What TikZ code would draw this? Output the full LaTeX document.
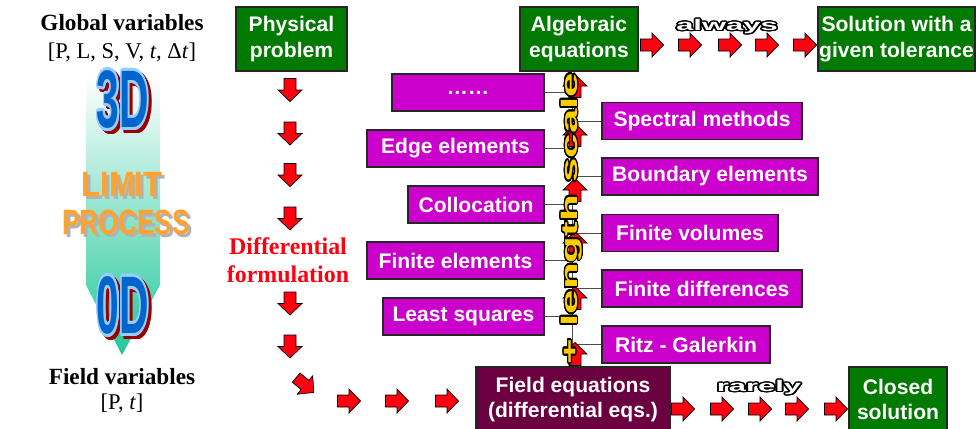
\documentclass[tikz,border=0pt]{standalone}
\usepackage{fontspec}
\setmainfont{Liberation Serif}
\setsansfont{Liberation Sans}
\usepackage{contour}
\contournumber{24}
\usetikzlibrary{arrows.meta, positioning}
\definecolor{mGreen}{HTML}{007A00}
\definecolor{mPurple}{HTML}{CC00CC}
\definecolor{mWine}{HTML}{6B0040}
\definecolor{mRed}{HTML}{FF0010}
\definecolor{mTeal}{HTML}{20C89A}
\definecolor{mAmber}{HTML}{FFA22E}
\definecolor{mDeepBlue}{HTML}{0066CC}
\definecolor{mSky}{HTML}{99CCFF}
\definecolor{mShade}{HTML}{990000}
\definecolor{mYellow}{HTML}{FFCC00}

\begin{document}
\begin{tikzpicture}[x=0.025cm, y=-0.025cm,
      box/.style={draw=black!85, line width=0.9pt, text=white, inner sep=0pt,
                  align=center, font=\sffamily\bfseries\fontsize{15}{18}\selectfont},
      gbox/.style={box, fill=mGreen, minimum height=1.6cm},
      pbox/.style={box, fill=mPurple, minimum height=0.925cm},
      wbox/.style={box, fill=mWine, minimum height=1.625cm},
      link/.style={draw=black!70, line width=0.6pt},
      title/.style={font=\bfseries\fontsize{16.5}{19}\selectfont},
      vars/.style={font=\fontsize{16}{19}\selectfont},
      big/.style={font=\sffamily\bfseries\fontsize{58}{58}\selectfont, inner sep=0pt},
      limit/.style={font=\sffamily\bfseries\fontsize{25}{25}\selectfont, inner sep=0pt},
      wordart/.style={font=\sffamily\bfseries\fontsize{11}{11}\selectfont, inner sep=0pt},
      blockarrow/.pic={\draw[fill=mRed, draw=black, line width=0.5pt]
          (-11.5,-6) -- (0,-6) -- (0,-12) -- (11.5,0) -- (0,12) -- (0,6) -- (-11.5,6) -- cycle;}]
    \useasboundingbox (0,0) rectangle (978,428);

    \shade[top color=white, bottom color=mTeal]
        (86,75) -- (160,75) -- (160,285) -- (122,355) -- (86,285) -- cycle;

    \node[title] (glob) at (122,23) {Global variables};
    \node[vars] (globv) at (122,52) {[P, L, S, V, \textit{t}, Δ\textit{t}]};
    \node[title] (fld) at (122,377) {Field variables};
    \node[vars] (fldv) at (122,403) {[P, \textit{t}]};

    \node[big, text=mShade] (threeDs) at (126,104) {\scalebox{0.5}[1]{\contourlength{2pt}\contour{mShade}{3D}}};
    \node[big, text=mDeepBlue] (threeD) at (123,101) {\scalebox{0.5}[1]{\contourlength{2pt}\contour{mSky}{3D}}};
    \node[big, text=mShade] (zeroDs) at (126,310) {\scalebox{0.5}[1]{\contourlength{2pt}\contour{mShade}{0D}}};
    \node[big, text=mDeepBlue] (zeroD) at (123,307) {\scalebox{0.5}[1]{\contourlength{2pt}\contour{mSky}{0D}}};
    \node[limit, text=black!30] (lims) at (125,187) {\scalebox{0.88}[1]{LIMIT}};
    \node[limit, text=mAmber] (lim) at (122,184) {\scalebox{0.88}[1]{LIMIT}};
    \node[limit, text=black!30] (procs) at (129,225) {\scalebox{0.74}[1]{PROCESS}};
    \node[limit, text=mAmber] (proc) at (126,222) {\scalebox{0.74}[1]{PROCESS}};

    \node[gbox, minimum width=2.775cm] (phys) at (291.5,39) {Physical\\problem};
    \node[gbox, minimum width=2.95cm] (alg) at (579,39) {Algebraic\\equations};
    \node[gbox, minimum width=3.925cm] (sol) at (896.5,39) {Solution with a\\given tolerance};
    \node[wbox, minimum width=4.85cm] (feq) at (573,399.5) {Field equations\\(differential eqs.)};
    \node[gbox, minimum width=2.45cm, minimum height=1.625cm] (closed) at (898,399.5) {Closed\\solution};

    \node[font=\bfseries\fontsize{17}{20}\selectfont, text=mRed, align=center]
        (diff) at (288,260) {Differential\\formulation};

    \node[pbox, minimum width=3.8cm] (dots) at (468,92.5) {……};
    \node[pbox, minimum width=4.425cm] (edge) at (455.5,148.5) {Edge elements};
    \node[pbox, minimum width=3.4cm] (coll) at (476,204.5) {Collocation};
    \node[pbox, minimum width=4.425cm] (fem) at (455.5,260.5) {Finite elements};
    \node[pbox, minimum width=4.025cm] (lsq) at (463.5,316.5) {Least squares};
    \node[pbox, minimum width=5cm] (spec) at (702,121) {Spectral methods};
    \node[pbox, minimum width=5.4cm] (bem) at (710,176.5) {Boundary elements};
    \node[pbox, minimum width=4.4cm] (fvm) at (690,233) {Finite volumes};
    \node[pbox, minimum width=5cm] (fdm) at (702,288.5) {Finite differences};
    \node[pbox, minimum width=4.2cm] (ritz) at (686,344.5) {Ritz - Galerkin};

    \coordinate (ax1) at (572,92.5);
    \coordinate (ax2) at (572,121);
    \coordinate (ax3) at (572,148.5);
    \coordinate (ax4) at (572,176.5);
    \coordinate (ax5) at (572,204.5);
    \coordinate (ax6) at (572,233);
    \coordinate (ax7) at (572,260.5);
    \coordinate (ax8) at (572,288.5);
    \coordinate (ax9) at (572,316.5);
    \coordinate (ax10) at (572,344.5);

    \draw[link] (ax1) -- (ax10);
    \draw[link] (dots.east) -- (ax1);
    \draw[link] (spec.west) -- (ax2);
    \draw[link] (edge.east) -- (ax3);
    \draw[link] (bem.west) -- (ax4);
    \draw[link] (coll.east) -- (ax5);
    \draw[link] (fvm.west) -- (ax6);
    \draw[link] (fem.east) -- (ax7);
    \draw[link] (fdm.west) -- (ax8);
    \draw[link] (lsq.east) -- (ax9);
    \draw[link] (ritz.west) -- (ax10);

    \pic[rotate=90] (up1) at (575,354) {blockarrow};
    \pic[rotate=90] (up2) at (575,298) {blockarrow};
    \pic[rotate=90] (up3) at (575,243) {blockarrow};
    \pic[rotate=90] (up4) at (575,190) {blockarrow};
    \pic[rotate=90] (up5) at (575,135) {blockarrow};
    \pic[rotate=90] (up6) at (575,86) {blockarrow};
    \node[rotate=90, font=\sffamily\bfseries\fontsize{16}{16}\selectfont, inner sep=0pt]
        (scale) at (572,218.5) {\scalebox{1.95}[1]{\contourlength{0.7pt}\contour{black}{\textcolor{mYellow}{+ length scale}}}};

    \pic[rotate=-90] (dn1) at (290,90) {blockarrow};
    \pic[rotate=-90] (dn2) at (290,133.5) {blockarrow};
    \pic[rotate=-90] (dn3) at (290,175) {blockarrow};
    \pic[rotate=-90] (dn4) at (290,218.5) {blockarrow};
    \pic[rotate=-90] (dn5) at (290,303.5) {blockarrow};
    \pic[rotate=-90] (dn6) at (290,346.5) {blockarrow};
    \pic[rotate=-40] (dg) at (305,385) {blockarrow};
    \pic (rt1) at (349,401) {blockarrow};
    \pic (rt2) at (397,401) {blockarrow};
    \pic (rt3) at (447,401) {blockarrow};

    \pic (ta1) at (652,45) {blockarrow};
    \pic (ta2) at (690,45) {blockarrow};
    \pic (ta3) at (730,45) {blockarrow};
    \pic (ta4) at (767,45) {blockarrow};
    \pic (ta5) at (805,45) {blockarrow};
    \node[wordart] (alw) at (727,27) {\scalebox{2}[1]{\contourlength{0.6pt}\contour{black}{\textcolor{white}{always}}}};

    \pic (ba1) at (683,409) {blockarrow};
    \pic (ba2) at (722,409) {blockarrow};
    \pic (ba3) at (760,409) {blockarrow};
    \pic (ba4) at (797,409) {blockarrow};
    \pic (ba5) at (836,409) {blockarrow};
    \node[wordart] (rar) at (759,388) {\scalebox{2}[1]{\contourlength{0.6pt}\contour{black}{\textcolor{white}{rarely}}}};
\end{tikzpicture}
\end{document}
